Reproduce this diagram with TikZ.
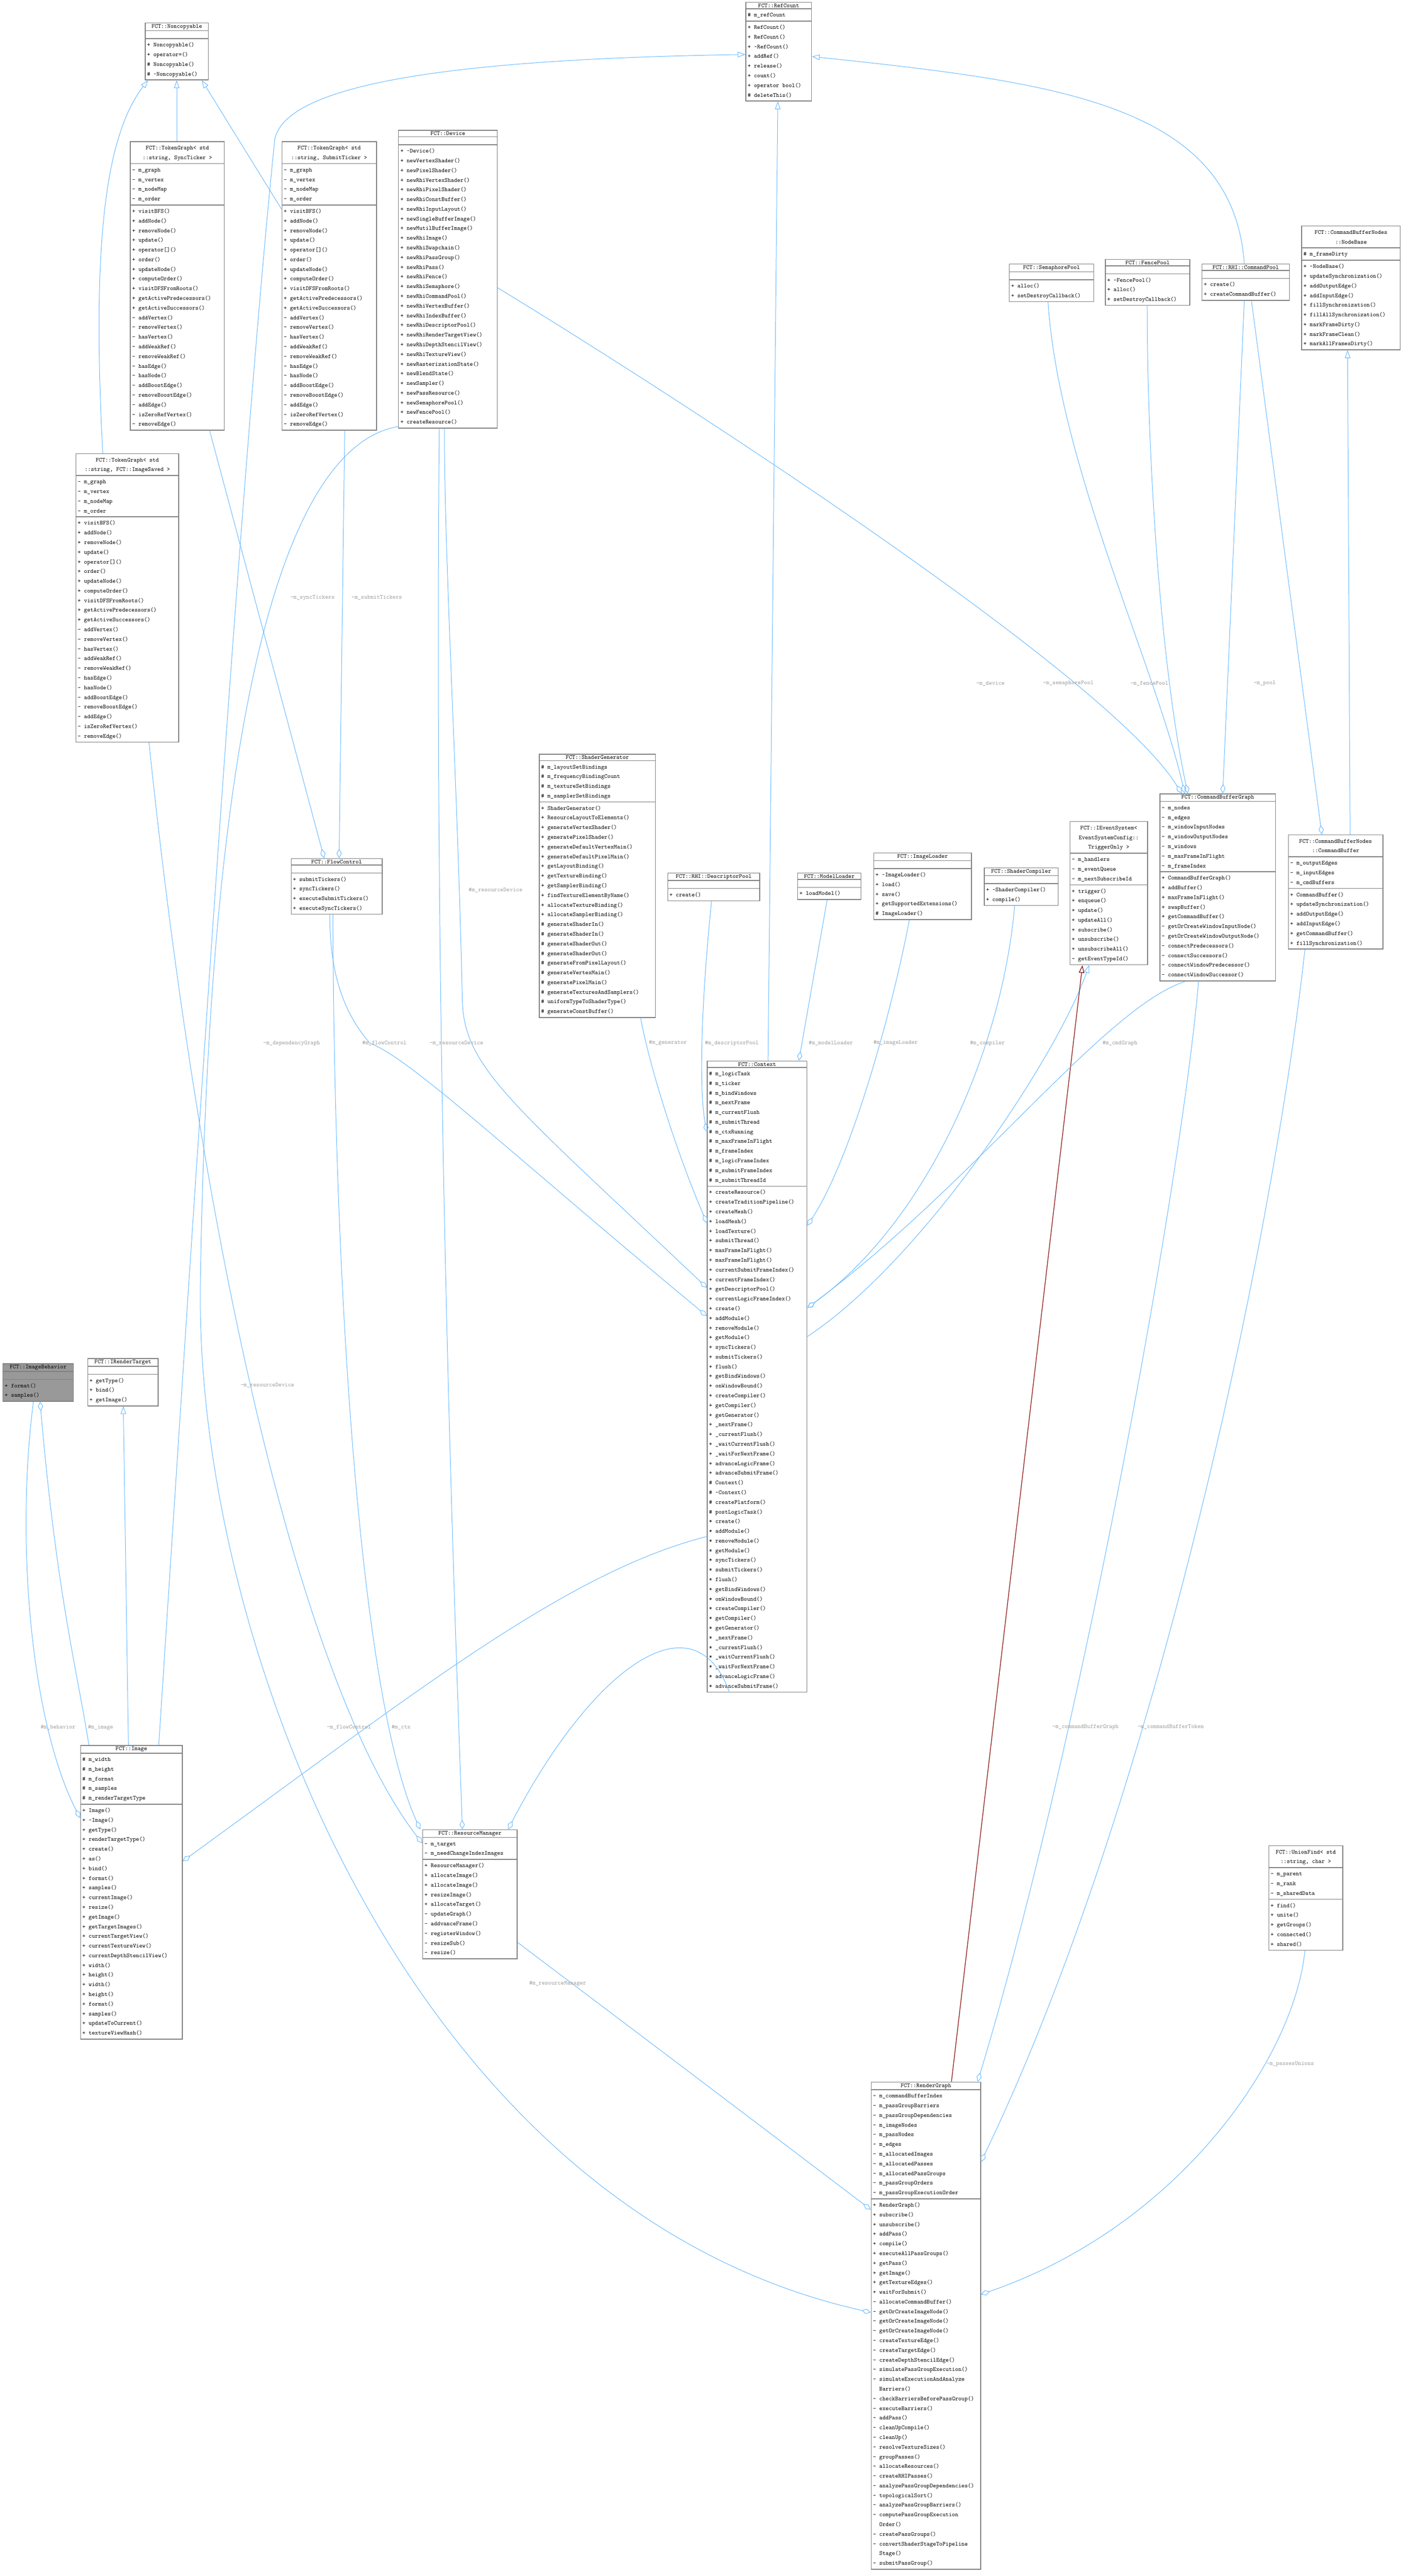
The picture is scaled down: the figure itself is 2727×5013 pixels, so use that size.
\documentclass[tikz,border=0pt]{standalone}
\usepackage{xcolor}
\usepackage{tikz}
\usetikzlibrary{calc}
\usetikzlibrary{shapes.multipart,arrows.meta}
\definecolor{edgeblue}{HTML}{63B8FF}
\definecolor{edgered}{HTML}{8B1A1A}
\definecolor{labelgray}{HTML}{9A9A9A}
\definecolor{boxgray}{HTML}{7F7F7F}
\renewcommand\arraystretch{1.34}
\newcommand\ml[1]{\begin{tabular}{@{}l@{}}#1\end{tabular}}
\newcommand\tl[1]{\begin{tabular}{@{}c@{}}#1\end{tabular}}
\newcommand\tld{\textasciitilde}
\newcommand\st{{*}}
\newcommand\emptypart{\rule{0pt}{9pt}}

\begin{document}
\begin{tikzpicture}[x=0.3mm,y=-0.3mm,
 cls/.style={rectangle split,rectangle split parts=3,draw=boxgray,line width=0.45mm,fill=white,
   rectangle split part align={center,left,left},anchor=north west,inner xsep=3pt,inner ysep=1.5pt,
   font=\ttfamily\fontsize{10}{12}\selectfont},
 inherit/.style={draw=edgeblue,line width=0.3mm,{Triangle[open,length=4.5mm,width=3.2mm]}-},
 inheritred/.style={draw=edgered,line width=0.4mm,{Triangle[open,length=4.5mm,width=3.2mm]}-},
 assoc/.style={draw=edgeblue,line width=0.3mm,{Diamond[open,length=5.5mm,width=3mm]}-},
 lbl/.style={text=labelgray,anchor=west,inner sep=0pt,font=\ttfamily\fontsize{10}{12}\selectfont}]
 	\useasboundingbox (0,0) rectangle (2727,5013);
 	% classes
 	\node[cls,minimum width=123*0.3mm] (nc) at (282,44) {FCT::Noncopyable
 	 \nodepart{two}\emptypart
 	 \nodepart{three}\ml{+ Noncopyable()\\+ operator=()\\\# Noncopyable()\\\# \tld Noncopyable()}};
 	\node[cls,minimum width=183*0.3mm] (tgsync) at (253,275) {\tl{FCT::TokenGraph< std\\::string, SyncTicker >}
 	 \nodepart{two}\ml{- m\_graph\\- m\_vertex\\- m\_nodeMap\\- m\_order}
 	 \nodepart{three}\ml{+ visitBFS()\\+ addNode()\\+ removeNode()\\+ update()\\+ operator[]()\\+ order()\\+ updateNode()\\+ computeOrder()\\+ visitDFSFromRoots()\\+ getActivePredecessors()\\+ getActiveSuccessors()\\- addVertex()\\- removeVertex()\\- hasVertex()\\- addWeakRef()\\- removeWeakRef()\\- hasEdge()\\- hasNode()\\- addBoostEdge()\\- removeBoostEdge()\\- addEdge()\\- isZeroRefVertex()\\- removeEdge()}};
 	\node[cls,minimum width=184*0.3mm] (tgsub) at (548,275) {\tl{FCT::TokenGraph< std\\::string, SubmitTicker >}
 	 \nodepart{two}\ml{- m\_graph\\- m\_vertex\\- m\_nodeMap\\- m\_order}
 	 \nodepart{three}\ml{+ visitBFS()\\+ addNode()\\+ removeNode()\\+ update()\\+ operator[]()\\+ order()\\+ updateNode()\\+ computeOrder()\\+ visitDFSFromRoots()\\+ getActivePredecessors()\\+ getActiveSuccessors()\\- addVertex()\\- removeVertex()\\- hasVertex()\\- addWeakRef()\\- removeWeakRef()\\- hasEdge()\\- hasNode()\\- addBoostEdge()\\- removeBoostEdge()\\- addEdge()\\- isZeroRefVertex()\\- removeEdge()}};
 	\node[cls,minimum width=200*0.3mm] (tgimg) at (147,882) {\tl{FCT::TokenGraph< std\\::string, FCT::ImageSaved >}
 	 \nodepart{two}\ml{- m\_graph\\- m\_vertex\\- m\_nodeMap\\- m\_order}
 	 \nodepart{three}\ml{+ visitBFS()\\+ addNode()\\+ removeNode()\\+ update()\\+ operator[]()\\+ order()\\+ updateNode()\\+ computeOrder()\\+ visitDFSFromRoots()\\+ getActivePredecessors()\\+ getActiveSuccessors()\\- addVertex()\\- removeVertex()\\- hasVertex()\\- addWeakRef()\\- removeWeakRef()\\- hasEdge()\\- hasNode()\\- addBoostEdge()\\- removeBoostEdge()\\- addEdge()\\- isZeroRefVertex()\\- removeEdge()}};
 	\node[cls,minimum width=192*0.3mm] (dev) at (775,253) {FCT::Device
 	 \nodepart{two}\emptypart
 	 \nodepart{three}\ml{+ \tld Device()\\+ newVertexShader()\\+ newPixelShader()\\+ newRhiVertexShader()\\+ newRhiPixelShader()\\+ newRhiConstBuffer()\\+ newRhiInputLayout()\\+ newSingleBufferImage()\\+ newMutilBufferImage()\\+ newRhiImage()\\+ newRhiSwapchain()\\+ newRhiPassGroup()\\+ newRhiPass()\\+ newRhiFence()\\+ newRhiSemaphore()\\+ newRhiCommandPool()\\+ newRhiVertexBuffer()\\+ newRhiIndexBuffer()\\+ newRhiDescriptorPool()\\+ newRhiRenderTargetView()\\+ newRhiDepthStencilView()\\+ newRhiTextureView()\\+ newRasterizationState()\\+ newBlendState()\\+ newSampler()\\+ newPassResource()\\+ newSemaphorePool()\\+ newFencePool()\\+ createResource()}};
 	\node[cls,minimum width=128*0.3mm] (rc) at (1451,4) {FCT::RefCount
 	 \nodepart{two}\ml{\# m\_refCount}
 	 \nodepart{three}\ml{+ RefCount()\\+ RefCount()\\+ \tld RefCount()\\+ addRef()\\+ release()\\+ count()\\+ operator bool()\\\# deleteThis()}};
 	\node[cls,minimum width=164*0.3mm] (sp) at (1964,513) {FCT::SemaphorePool
 	 \nodepart{two}\emptypart
 	 \nodepart{three}\ml{+ alloc()\\+ setDestroyCallback()}};
 	\node[cls,minimum width=164*0.3mm] (fp) at (2151,504) {FCT::FencePool
 	 \nodepart{two}\emptypart
 	 \nodepart{three}\ml{+ \tld FencePool()\\+ alloc()\\+ setDestroyCallback()}};
 	\node[cls,minimum width=170*0.3mm] (cp) at (2339,513) {FCT::RHI::CommandPool
 	 \nodepart{two}\emptypart
 	 \nodepart{three}\ml{+ create()\\+ createCommandBuffer()}};
 	\node[cls,minimum width=192*0.3mm] (nb) at (2533,439) {\tl{FCT::CommandBufferNodes\\::NodeBase}
 	 \nodepart{two}\ml{\# m\_frameDirty}
 	 \nodepart{three}\ml{+ \tld NodeBase()\\+ updateSynchronization()\\+ addOutputEdge()\\+ addInputEdge()\\+ fillSynchronization()\\+ fillAllSynchronization()\\+ markFrameDirty()\\+ markFrameClean()\\+ markAllFramesDirty()}};
 	\node[cls,minimum width=226*0.3mm] (sg) at (1049,1467) {FCT::ShaderGenerator
 	 \nodepart{two}\ml{\# m\_layoutSetBindings\\\# m\_frequencyBindingCount\\\# m\_textureSetBindings\\\# m\_samplerSetBindings}
 	 \nodepart{three}\ml{+ ShaderGenerator()\\+ ResourceLayoutToElements()\\+ generateVertexShader()\\+ generatePixelShader()\\+ generateDefaultVertexMain()\\+ generateDefaultPixelMain()\\+ getLayoutBinding()\\+ getTextureBinding()\\+ getSamplerBinding()\\+ findTextureElementByName()\\+ allocateTextureBinding()\\+ allocateSamplerBinding()\\\# generateShaderIn()\\\# generateShaderIn()\\\# generateShaderOut()\\\# generateShaderOut()\\\# generateFromPixelLayout()\\\# generateVertexMain()\\\# generatePixelMain()\\\# generateTexturesAndSamplers()\\\# uniformTypeToShaderType()\\\# generateConstBuffer()}};
 	\node[cls,minimum width=179*0.3mm] (dp) at (1299,1698) {FCT::RHI::DescriptorPool
 	 \nodepart{two}\emptypart
 	 \nodepart{three}\ml{+ create()}};
 	\node[cls,minimum width=123*0.3mm] (mdl) at (1552,1698) {FCT::ModelLoader
 	 \nodepart{two}\emptypart
 	 \nodepart{three}\ml{+ loadModel()}};
 	\node[cls,minimum width=190*0.3mm] (il) at (1700,1659) {FCT::ImageLoader
 	 \nodepart{two}\emptypart
 	 \nodepart{three}\ml{+ \tld ImageLoader()\\+ load()\\+ save()\\+ getSupportedExtensions()\\\# ImageLoader()}};
 	\node[cls,minimum width=144*0.3mm] (sc) at (1915,1688) {FCT::ShaderCompiler
 	 \nodepart{two}\emptypart
 	 \nodepart{three}\ml{+ \tld ShaderCompiler()\\+ compile()}};
 	\node[cls,minimum width=151*0.3mm] (ies) at (2082,1598) {\tl{FCT::IEventSystem<\\ EventSystemConfig::\\TriggerOnly >}
 	 \nodepart{two}\ml{- m\_handlers\\- m\_eventQueue\\- m\_nextSubscribeId}
 	 \nodepart{three}\ml{+ trigger()\\+ enqueue()\\+ update()\\+ updateAll()\\+ subscribe()\\+ unsubscribe()\\+ unsubscribeAll()\\- getEventTypeId()}};
 	\node[cls,minimum width=225*0.3mm] (cbg) at (2257,1544) {FCT::CommandBufferGraph
 	 \nodepart{two}\ml{- m\_nodes\\- m\_edges\\- m\_windowInputNodes\\- m\_windowOutputNodes\\- m\_windows\\- m\_maxFrameInFlight\\- m\_frameIndex}
 	 \nodepart{three}\ml{+ CommandBufferGraph()\\+ addBuffer()\\+ maxFrameInFlight()\\+ swapBuffer()\\+ getCommandBuffer()\\- getOrCreateWindowInputNode()\\- getOrCreateWindowOutputNode()\\- connectPredecessors()\\- connectSuccessors()\\- connectWindowPredecessor()\\- connectWindowSuccessor()}};
 	\node[cls,minimum width=184*0.3mm] (cb) at (2507,1624) {\tl{FCT::CommandBufferNodes\\::CommandBuffer}
 	 \nodepart{two}\ml{- m\_outputEdges\\- m\_inputEdges\\- m\_cmdBuffers}
 	 \nodepart{three}\ml{+ CommandBuffer()\\+ updateSynchronization()\\+ addOutputEdge()\\+ addInputEdge()\\+ getCommandBuffer()\\+ fillSynchronization()}};
 	\node[cls,minimum width=177*0.3mm] (fc) at (566,1670) {FCT::FlowControl
 	 \nodepart{two}\emptypart
 	 \nodepart{three}\ml{+ submitTickers()\\+ syncTickers()\\+ executeSubmitTickers()\\+ executeSyncTickers()}};
 	\node[cls,minimum width=194*0.3mm] (ctx) at (1376,2064) {FCT::Context
 	 \nodepart{two}\ml{\# m\_logicTask\\\# m\_ticker\\\# m\_bindWindows\\\# m\_nextFrame\\\# m\_currentFlush\\\# m\_submitThread\\\# m\_ctxRunning\\\# m\_maxFrameInFlight\\\# m\_frameIndex\\\# m\_logicFrameIndex\\\# m\_submitFrameIndex\\\# m\_submitThreadId}
 	 \nodepart{three}\ml{+ createResource()\\+ createTraditionPipeline()\\+ createMesh()\\+ loadMesh()\\+ loadTexture()\\+ submitThread()\\+ maxFrameInFlight()\\+ maxFrameInFlight()\\+ currentSubmitFrameIndex()\\+ currentFrameIndex()\\+ getDescriptorPool()\\+ currentLogicFrameIndex()\\+ create()\\+ addModule()\\+ removeModule()\\+ getModule()\\+ syncTickers()\\+ submitTickers()\\+ flush()\\+ getBindWindows()\\+ onWindowBound()\\+ createCompiler()\\+ getCompiler()\\+ getGenerator()\\+ \_nextFrame()\\+ \_currentFlush()\\+ \_waitCurrentFlush()\\+ \_waitForNextFrame()\\+ advanceLogicFrame()\\+ advanceSubmitFrame()\\\# Context()\\\# \tld Context()\\\# createPlatform()\\\# postLogicTask()\\\st{} create()\\\st{} addModule()\\\st{} removeModule()\\\st{} getModule()\\\st{} syncTickers()\\\st{} submitTickers()\\\st{} flush()\\\st{} getBindWindows()\\\st{} onWindowBound()\\\st{} createCompiler()\\\st{} getCompiler()\\\st{} getGenerator()\\\st{} \_nextFrame()\\\st{} \_currentFlush()\\\st{} \_waitCurrentFlush()\\\st{} \_waitForNextFrame()\\\st{} advanceLogicFrame()\\\st{} advanceSubmitFrame()}};
 	\node[cls,minimum width=137*0.3mm,fill=gray!80] (ib) at (5,2653) {FCT::ImageBehavior
 	 \nodepart{two}\emptypart
 	 \nodepart{three}\ml{+ format()\\+ samples()}};
 	\node[cls,minimum width=137*0.3mm] (irt) at (170,2643) {FCT::IRenderTarget
 	 \nodepart{two}\emptypart
 	 \nodepart{three}\ml{+ getType()\\+ bind()\\+ getImage()}};
 	\node[cls,minimum width=198*0.3mm] (img) at (156,3396) {FCT::Image
 	 \nodepart{two}\ml{\# m\_width\\\# m\_height\\\# m\_format\\\# m\_samples\\\# m\_renderTargetType}
 	 \nodepart{three}\ml{+ Image()\\+ \tld Image()\\+ getType()\\+ renderTargetType()\\+ create()\\+ as()\\+ bind()\\+ format()\\+ samples()\\+ currentImage()\\+ resize()\\+ getImage()\\+ getTargetImages()\\+ currentTargetView()\\+ currentTextureView()\\+ currentDepthStencilView()\\+ width()\\+ height()\\+ width()\\+ height()\\+ format()\\+ samples()\\+ updateToCurrent()\\+ textureViewHash()}};
 	\node[cls,minimum width=184*0.3mm] (rm) at (822,3560) {FCT::ResourceManager
 	 \nodepart{two}\ml{- m\_target\\- m\_needChangeIndexImages}
 	 \nodepart{three}\ml{+ ResourceManager()\\+ allocateImage()\\+ allocateImage()\\+ resizeImage()\\+ allocateTarget()\\- updateGraph()\\- addvanceFrame()\\- registerWindow()\\- resizeSub()\\- resize()}};
 	\node[cls,minimum width=144*0.3mm] (uf) at (2469,3591) {\tl{FCT::UnionFind< std\\::string, char >}
 	 \nodepart{two}\ml{- m\_parent\\- m\_rank\\- m\_sharedData}
 	 \nodepart{three}\ml{+ find()\\+ unite()\\+ getGroups()\\+ connected()\\+ shared()}};
 	\node[cls,minimum width=213*0.3mm] (rg) at (1695,4051) {FCT::RenderGraph
 	 \nodepart{two}\ml{- m\_commandBufferIndex\\- m\_passGroupBarriers\\- m\_passGroupDependencies\\- m\_imageNodes\\- m\_passNodes\\- m\_edges\\- m\_allocatedImages\\- m\_allocatedPasses\\- m\_allocatedPassGroups\\- m\_passGroupOrders\\- m\_passGroupExecutionOrder}
 	 \nodepart{three}\ml{+ RenderGraph()\\+ subscribe()\\+ unsubscribe()\\+ addPass()\\+ compile()\\+ executeAllPassGroups()\\+ getPass()\\+ getImage()\\+ getTextureEdges()\\+ waitForSubmit()\\- allocateCommandBuffer()\\- getOrCreateImageNode()\\- getOrCreateImageNode()\\- getOrCreateImageNode()\\- createTextureEdge()\\- createTargetEdge()\\- createDepthStencilEdge()\\- simulatePassGroupExecution()\\- simulateExecutionAndAnalyze\\\ \ Barriers()\\- checkBarriersBeforePassGroup()\\- executeBarriers()\\- addPass()\\- cleanUpCompile()\\- cleanUp()\\- resolveTextureSizes()\\- groupPasses()\\- allocateResources()\\- createRHIPasses()\\- analyzePassGroupDependencies()\\- topologicalSort()\\- analyzePassGroupBarriers()\\- computePassGroupExecution\\\ \ Order()\\- createPassGroups()\\- convertShaderStageToPipeline\\\ \ Stage()\\- submitPassGroup()}};
 	% inheritance
 	\draw[inherit] (344,0 |- nc.south) -- (344,0 |- tgsync.north);
 	\draw[inherit] (393,0 |- nc.south) -- (tgsub.west |- 0,407);
 	\draw[inherit] (288,0 |- nc.south) .. controls (200,270) and (180,500) .. (200,0 |- tgimg.north);
 	\draw[inherit] (rc.west |- 0,106) .. controls (900,115) and (560,160) .. (535,270) .. controls (470,900) and (380,2300) .. (309,0 |- img.north);
 	\draw[inherit] (rc.east |- 0,110) .. controls (2050,160) and (2400,200) .. (2422,0 |- cp.north);
 	\draw[inherit] (1514,0 |- rc.south) -- (1495,0 |- ctx.north);
 	\draw[inherit] (2623,0 |- nb.south) -- (2628,0 |- cb.north);
 	\draw[inherit] (240,0 |- irt.south) -- (250,0 |- img.north);
 	\draw[inherit] (2120,0 |- ies.south) .. controls (2060,2050) and (1800,2450) .. (ctx.east |- 0,2601);
 	\draw[inheritred] (2107,0 |- ies.south) -- (1852,0 |- rg.north);
 	% members
 	\draw[assoc] (631,0 |- fc.north) -- (408,0 |- tgsync.south);
 	\draw[assoc] (660,0 |- fc.north) -- (671,0 |- tgsub.south);
 	\draw[assoc] (ctx.west |- 0,2203) .. controls (1360,2120) and (1365,1950) .. (1385,0 |- dp.south);
 	\draw[assoc] (ctx.west |- 0,2380) .. controls (1320,2250) and (1265,2080) .. (1247,0 |- sg.south);
 	\draw[assoc] (1555,0 |- ctx.north) -- (1610,0 |- mdl.south);
 	\draw[assoc] (ctx.east |- 0,2385) .. controls (1660,2250) and (1740,1950) .. (1770,0 |- il.south);
 	\draw[assoc] (ctx.east |- 0,2545) .. controls (1800,2380) and (1950,2050) .. (1975,0 |- sc.south);
 	\draw[assoc] (ctx.east |- 0,2545) .. controls (1900,2300) and (2150,1960) .. (2308,0 |- cbg.south);
 	\draw[assoc] (ctx.west |- 0,2506) .. controls (1000,2150) and (905,2080) .. (900,1950) .. controls (890,1500) and (865,1100) .. (865,0 |- dev.south);
 	\draw[assoc] (ctx.west |- 0,2561) .. controls (1000,2250) and (800,2060) .. (720,2030) .. controls (650,1950) and (642,1850) .. (642,0 |- fc.south);
 	\draw[assoc] (818,0 |- rm.north) .. controls (700,3300) and (650,2500) .. (648,0 |- fc.south);
 	\draw[assoc] (900,0 |- rm.north) .. controls (880,3000) and (845,2000) .. (855,0 |- dev.south);
 	\draw[assoc] (989,0 |- rm.north) .. controls (1150,3250) and (1350,3100) .. (1420,0 |- ctx.south);
 	\draw[assoc] (rm.west |- 0,3587) .. controls (600,3300) and (400,2500) .. (290,0 |- tgimg.south);
 	\draw[assoc] (img.east |- 0,3622) .. controls (800,3300) and (1100,3060) .. (ctx.west |- 0,2990);
 	\draw[assoc] (img.west |- 0,3538) .. controls (60,3350) and (30,3000) .. (65,0 |- ib.south);
 	\draw[assoc] (78,0 |- ib.south) .. controls (110,3100) and (150,3250) .. (173,0 |- img.north);
 	\draw[assoc] (2300,0 |- cbg.north) .. controls (2150,1300) and (1200,700) .. (dev.east |- 0,560);
 	\draw[assoc] (2306,0 |- cbg.north) .. controls (2250,1300) and (2060,900) .. (2040,0 |- sp.south);
 	\draw[assoc] (2312,0 |- cbg.north) .. controls (2260,1300) and (2233,900) .. (2233,0 |- fp.south);
 	\draw[assoc] (2380,0 |- cbg.north) -- (2422,0 |- cp.south);
 	\draw[assoc] (2573,0 |- cb.north) -- (2436,0 |- cp.south);
 	\draw[assoc] (1903,0 |- rg.north) .. controls (2100,3400) and (2300,2300) .. (2333,0 |- cbg.south);
 	\draw[assoc] (rg.east |- 0,4207) .. controls (2250,3500) and (2480,2400) .. (2540,0 |- cb.south);
 	\draw[assoc] (rg.east |- 0,4465) .. controls (2300,4330) and (2520,4000) .. (2540,0 |- uf.south);
 	\draw[assoc] (rg.west |- 0,4300) .. controls (1300,4000) and (1100,3850) .. (rm.east |- 0,3780);
 	\draw[assoc] (rg.west |- 0,4500) .. controls (800,4300) and (380,3200) .. (390,2500) .. controls (410,1200) and (600,860) .. (dev.west |- 0,830);
 	% labels
 	\node[lbl] (l1) at (565,1163) {-m\_syncTickers};
 	\node[lbl] (l2) at (684,1163) {-m\_submitTickers};
 	\node[lbl] (l3) at (912,1732) {\#m\_resourceDevice};
 	\node[lbl] (l4) at (512,2030) {-m\_dependencyGraph};
 	\node[lbl] (l5) at (705,2030) {\#m\_flowControl};
 	\node[lbl] (l6) at (836,2030) {-m\_resourceDevice};
 	\node[lbl] (l7) at (1263,2030) {\#m\_generator};
 	\node[lbl] (l8) at (1372,2030) {\#m\_descriptorPool};
 	\node[lbl] (l9) at (1574,2030) {\#m\_modelLoader};
 	\node[lbl] (l10) at (1700,2030) {\#m\_imageLoader};
 	\node[lbl] (l11) at (1888,2030) {\#m\_compiler};
 	\node[lbl] (l12) at (2146,2030) {\#m\_cmdGraph};
 	\node[lbl] (l13) at (468,2696) {-m\_resourceDevice};
 	\node[lbl] (l14) at (79,3362) {\#m\_behavior};
 	\node[lbl] (l15) at (171,3362) {\#m\_image};
 	\node[lbl] (l16) at (636,3362) {-m\_flowControl};
 	\node[lbl] (l17) at (762,3362) {\#m\_ctx};
 	\node[lbl] (l18) at (2048,3361) {-m\_commandBufferGraph};
 	\node[lbl] (l19) at (2214,3361) {-m\_commandBufferToken};
 	\node[lbl] (l20) at (2465,4017) {-m\_passesUnions};
 	\node[lbl] (l21) at (1030,3860) {\#m\_resourceManager};
 	\node[lbl] (l22) at (1900,1330) {-m\_device};
 	\node[lbl] (l23) at (2030,1330) {-m\_semaphorePool};
 	\node[lbl] (l24) at (2200,1330) {-m\_fencePool};
 	\node[lbl] (l25) at (2440,1330) {-m\_pool};
 \end{tikzpicture}
\end{document}
